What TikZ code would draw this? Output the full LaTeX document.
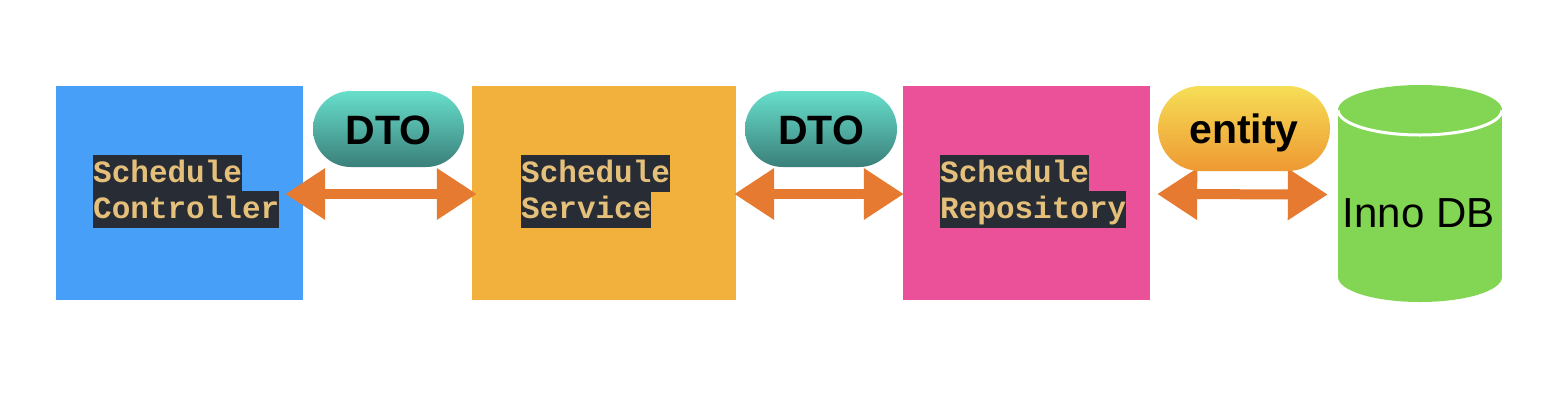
\documentclass[tikz,border=0pt]{standalone}
\usepackage{fontspec}
\setmainfont{Liberation Sans}
\newfontfamily\codefont{Liberation Mono}
\usetikzlibrary{arrows.meta,calc}
\definecolor{ctrlblue}{HTML}{479FF8}
\definecolor{svcorange}{HTML}{F2B13C}
\definecolor{repopink}{HTML}{EA5199}
\definecolor{dbgreen}{HTML}{82D653}
\definecolor{arrowc}{HTML}{E57A30}
\definecolor{dtotop}{HTML}{68DFCB}
\definecolor{dtobot}{HTML}{3A7F7A}
\definecolor{enttop}{HTML}{F6DE56}
\definecolor{entbot}{HTML}{EE9933}
\definecolor{codebg}{HTML}{282C34}
\definecolor{codefg}{HTML}{E5C07B}
\begin{document}
\begin{tikzpicture}[x=1bp,y=-1bp,
  box/.style={rectangle, draw=none, inner sep=0, minimum height=214bp},
  code/.style={anchor=north west, inner sep=0, fill=codebg, text=codefg,
    font=\codefont\bfseries\fontsize{31bp}{31bp}\selectfont,
    text height=27.5bp, text depth=9bp},
  pill/.style={rectangle, inner sep=0, text=black,
    font=\bfseries\fontsize{41bp}{41bp}\selectfont, text height=30bp, text depth=0bp},
  dblarrow/.style={draw=arrowc, line width=10bp,
    {Triangle[length=40bp 0 0,width=49bp 0 0]}-{Triangle[length=40bp 0 0,width=49bp 0 0]}}
]
\fill[white] (0,0) rectangle (1566,400);
\useasboundingbox (0,0) rectangle (1566,400);

% boxes
\node[box, fill=ctrlblue, minimum width=247bp] (ctrl) at (179.5,193) {};
\node[box, fill=svcorange, minimum width=264bp] (svc) at (604,193) {};
\node[box, fill=repopink, minimum width=247bp] (repo) at (1026.5,193) {};

% code labels
\node[code] (ctrl1) at (93,155) {Schedule};
\node[code] (ctrl2) at (93,191) {Controller};
\node[code] (svc1) at (521,155) {Schedule};
\node[code] (svc2) at (521,191) {Service};
\node[code] (repo1) at (940,155) {Schedule};
\node[code] (repo2) at (940,191) {Repository};

% database cylinder
\node[rectangle, inner sep=0, minimum width=164bp, minimum height=216bp] (db) at (1420,193.5) {};
\fill[dbgreen] (1338,110) rectangle (1502,277);
\fill[dbgreen] (1420,277) ellipse [x radius=82, y radius=25];
\fill[dbgreen] (1420,110) ellipse [x radius=82, y radius=25];
\begin{scope}
  \clip (1330,110) rectangle (1510,140);
  \draw[white, line width=3bp] (1420,110) ellipse [x radius=82, y radius=25];
\end{scope}
\node[inner sep=0, font=\fontsize{42bp}{42bp}\selectfont, text height=30bp, text depth=0bp] (dbtext) at (1418.5,212) {Inno DB};

% arrows
\draw[dblarrow] ($(ctrl.east)+(-18,1)$) -- ($(svc.west)+(5,1)$);
\draw[dblarrow] ($(svc.east)+(-2,1)$) -- ($(repo.west)+(1,1)$);
\draw[dblarrow] ($(repo.east)+(7,1)$) -- ($(db.west)+(-10,1)$);

% pills
\node[pill, top color=dtotop, bottom color=dtobot, minimum width=151bp, minimum height=76bp, rounded corners=37.9bp] (dto1) at (388.5,129) {DTO};
\node[pill, top color=dtotop, bottom color=dtobot, minimum width=152bp, minimum height=76bp, rounded corners=37.9bp] (dto2) at (821,129) {DTO};
\node[pill, top color=enttop, bottom color=entbot, minimum width=172bp, minimum height=85bp, rounded corners=42.4bp] (ent) at (1244,128.5) {entity};
\end{tikzpicture}
\end{document}
